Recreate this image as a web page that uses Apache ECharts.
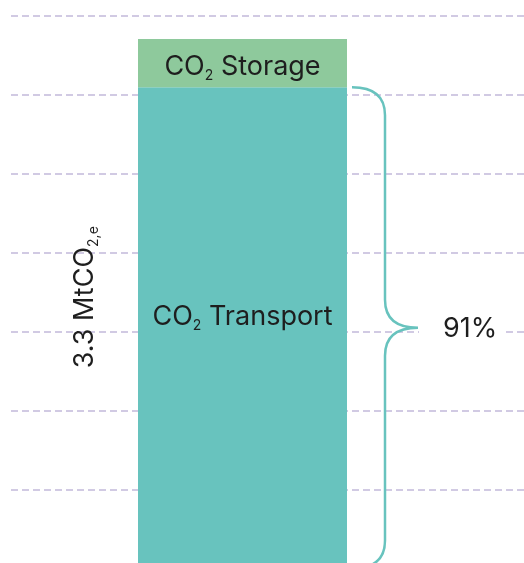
<!DOCTYPE html>
<html>
<head>
<meta charset="utf-8">
<style>
  html, body { margin: 0; padding: 0; background: #fff; }
  #chart { width: 524px; height: 563px; }
</style>
<script src="https://cdn.jsdelivr.net/npm/echarts@6/dist/echarts.min.js"></script>
</head>
<body>
<div id="chart"></div>
<script>
// stages of the chain, bottom to top, in MtCO2,e
const stages = ['Transport', 'Storage']
const stageValues = [3.0, 0.3]
const stageColors = ['#68c3be', '#8ec99c']
const column = ['CCS']

// dashed guide lines behind the column
const guideStep = 0.492
const guideCount = 7

const total = stageValues.reduce((a, b) => a + b, 0)
const transportShare = Math.round(stageValues[0] / total * 100)

const FONT = 'Inter, "Noto Sans", sans-serif'
const INK = '#1e1e1e'
const richText = {
  m: { fontSize: 27, lineHeight: 32, color: INK, fontFamily: FONT },
  s: { fontSize: 14, lineHeight: 4, color: INK, fontFamily: FONT, verticalAlign: 'bottom' }
}

const yMax = guideStep * guideCount

const option = {
  animation: false,
  grid: [
    { left: 11, right: 0, top: 16, bottom: -5.5, outerBoundsMode: 'none' },
    { left: 138, width: 209, top: 16, bottom: -5.5, outerBoundsMode: 'none' }
  ],
  xAxis: [
    { gridIndex: 0, type: 'value', min: 0, max: 1, show: false },
    { gridIndex: 1, type: 'category', data: column, show: false }
  ],
  yAxis: [
    {
      gridIndex: 0,
      type: 'value',
      min: 0,
      max: yMax,
      interval: guideStep,
      axisLine: { show: false },
      axisTick: { show: false },
      axisLabel: { show: false },
      splitLine: {
        show: true,
        lineStyle: { color: '#c2b9da', width: 1.7, type: [7, 4] }
      },
      name: '{m|' + total.toFixed(1) + ' MtCO}{s|2,e}',
      nameLocation: 'middle',
      nameRotate: 90,
      nameGap: -90,
      nameTextStyle: { rich: richText, padding: [0, 10, 0, 0] }
    },
    { gridIndex: 1, type: 'value', min: 0, max: yMax, show: false }
  ],
  series: stages.map((name, i) => ({
    name: name,
    type: 'bar',
    xAxisIndex: 1,
    yAxisIndex: 1,
    stack: 'chain',
    barWidth: '100%',
    itemStyle: { color: stageColors[i] },
    label: {
      show: true,
      position: 'inside',
      offset: i === 0 ? [0, -11] : [0, 4],
      formatter: '{m|CO}{s|2}{m| ' + name + '}',
      rich: richText
    },
    data: [stageValues[i]]
  })).concat([{
    type: 'custom',
    xAxisIndex: 1,
    yAxisIndex: 1,
    clip: false,
    z: 5,
    encode: { x: 0, y: [1, 2] },
    data: [[0, 0, stageValues[0]]],
    renderItem: (params, api) => {
      const top = api.coord([api.value(0), api.value(2)])
      const bot = api.coord([api.value(0), api.value(1)])
      const half = api.size([1, 0])[0] / 2
      const x0 = top[0] + half + 5
      const xv = x0 + 33
      const xt = xv + 33
      const y0 = top[1]
      const y1 = bot[1]
      const ym = (y0 + y1) / 2
      const r = 28
      const d = 'M' + x0 + ' ' + y0 +
        'Q' + xv + ' ' + y0 + ' ' + xv + ' ' + (y0 + r) +
        'L' + xv + ' ' + (ym - r) +
        'Q' + xv + ' ' + ym + ' ' + xt + ' ' + ym +
        'Q' + xv + ' ' + ym + ' ' + xv + ' ' + (ym + r) +
        'L' + xv + ' ' + (y1 - r) +
        'Q' + xv + ' ' + y1 + ' ' + x0 + ' ' + y1
      return {
        type: 'group',
        children: [
          {
            type: 'path',
            shape: { pathData: d },
            style: { fill: null, stroke: stageColors[0], lineWidth: 2.5 }
          },
          {
            type: 'text',
            x: xt + 1,
            y: ym + 1,
            style: {
              text: transportShare + '%',
              fill: INK,
              fontSize: 27,
              fontFamily: FONT,
              align: 'left',
              verticalAlign: 'middle',
              backgroundColor: '#fff',
              padding: [2, 5, 2, 24]
            }
          }
        ]
      }
    }
  }])
}

const myChart = echarts.init(document.getElementById('chart'))
myChart.setOption(option)
</script>
</body>
</html>
